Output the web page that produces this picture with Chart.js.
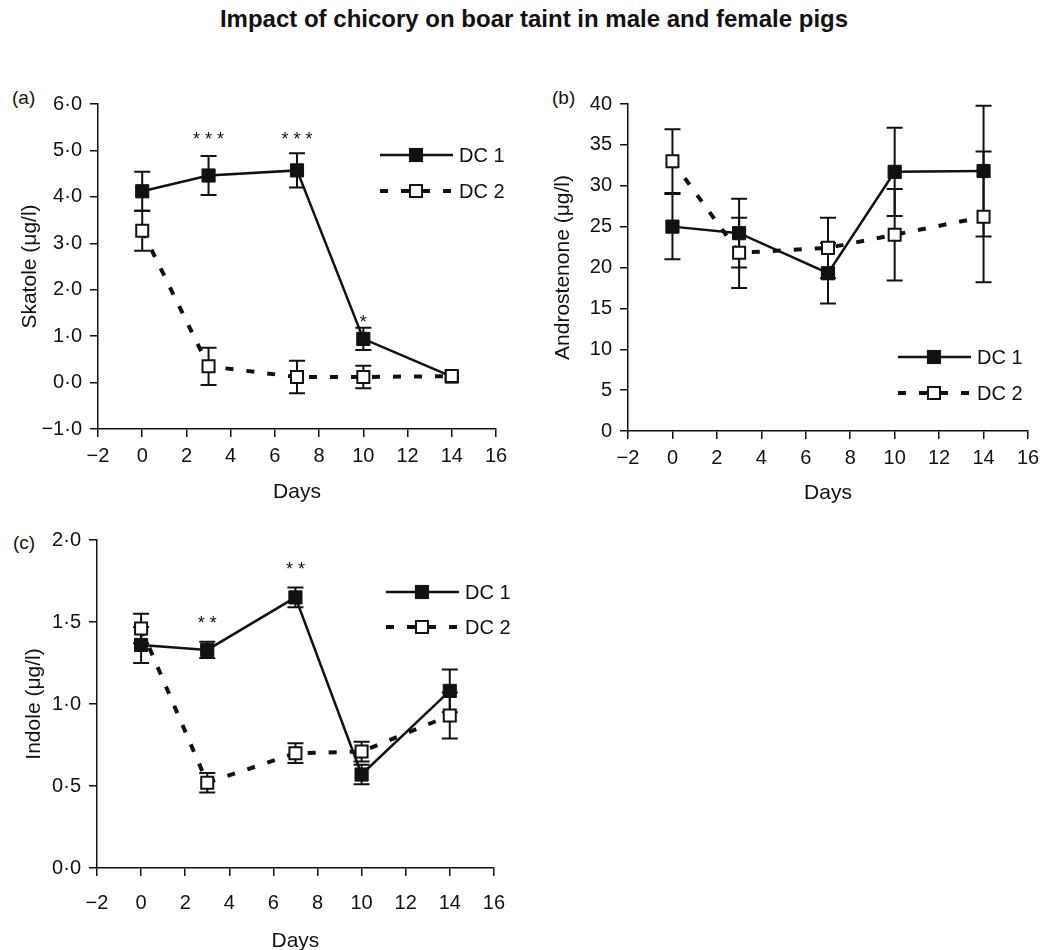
<!DOCTYPE html>
<html>
<head>
<meta charset="utf-8">
<script src="https://cdn.jsdelivr.net/npm/chart.js@4.4.1/dist/chart.umd.min.js"></script>
<style>
    body { margin: 0; background: #fff; width: 1060px; height: 950px; position: relative; overflow: hidden; font-family: 'Liberation Sans', Arial, sans-serif; color: #111; }
    .title { position: absolute; left: 4px; top: 5px; width: 1060px; text-align: center; font-weight: bold; font-size: 24px; line-height: 28px; }
    .tag { position: absolute; font-size: 19px; line-height: 22px; }
    canvas { position: absolute; }
</style>
</head>
<body>
<div class="title">Impact of chicory on boar taint in male and female pigs</div>
<div class="tag" style="left:12px;top:87px">(a)</div>
<div class="tag" style="left:552px;top:87px">(b)</div>
<div class="tag" style="left:13px;top:532px">(c)</div>
<canvas id="chartA" width="520" height="445" style="left:0;top:60px"></canvas>
<canvas id="chartB" width="540" height="446" style="left:520px;top:60px"></canvas>
<canvas id="chartC" width="520" height="454" style="left:0;top:500px"></canvas>
<script>
const days = [0, 3, 7, 10, 14];

// (a) skatole, mean and SE
const skatoleDC1 = [4.12, 4.46, 4.57, 0.94, 0.13];
const skatoleDC1Se = [0.42, 0.42, 0.37, 0.24, 0];
const skatoleDC2 = [3.27, 0.35, 0.12, 0.12, 0.14];
const skatoleDC2Se = [0.43, 0.40, 0.35, 0.24, 0];
const skatoleStarDays = [3, 7, 10];
const skatoleStarLevels = [5.12, 5.12, 1.18];
const skatoleStarText = ['* * *', '* * *', '*'];

// (b) androstenone
const androDC1 = [25.0, 24.2, 19.3, 31.7, 31.8];
const androDC1Se = [4.0, 4.2, 3.7, 5.4, 8.0];
const androDC2 = [33.0, 21.8, 22.4, 24.0, 26.2];
const androDC2Se = [3.9, 4.3, 3.7, 5.6, 8.0];

// (c) indole
const indoleDC1 = [1.36, 1.33, 1.65, 0.57, 1.08];
const indoleDC1Se = [0.11, 0.05, 0.06, 0.06, 0.13];
const indoleDC2 = [1.46, 0.52, 0.70, 0.71, 0.93];
const indoleDC2Se = [0.09, 0.06, 0.06, 0.06, 0.14];
const indoleStarDays = [3, 7];
const indoleStarLevels = [1.457, 1.787];
const indoleStarText = ['* *', '* *'];

const ink = '#111';
const family = "'Liberation Sans', Arial, sans-serif";
Chart.defaults.font.family = family;
Chart.defaults.color = ink;

const minus = (s) => s.replace('-', '\u2212');
const dotted = (v) => minus(Number(v).toFixed(1).replace('.', '\u00b7'));

// vertical SE bars, drawn under the markers
const errorBars = {
    id: 'errorBars',
    beforeDatasetsDraw(chart) {
        const { ctx, scales: { x, y } } = chart;
        ctx.save();
        ctx.strokeStyle = ink;
        ctx.lineWidth = 2;
        chart.data.datasets.forEach((ds) => {
            ds.errors.forEach((err, i) => {
                if (!err) return;
                const pt = ds.data[i];
                const px = x.getPixelForValue(pt.x);
                const top = y.getPixelForValue(pt.y + err);
                const bot = y.getPixelForValue(pt.y - err);
                ctx.beginPath();
                ctx.moveTo(px, top); ctx.lineTo(px, bot);
                ctx.moveTo(px - 8, top); ctx.lineTo(px + 8, top);
                ctx.moveTo(px - 8, bot); ctx.lineTo(px + 8, bot);
                ctx.stroke();
            });
        });
        ctx.restore();
    },
};

// significance asterisks
const stars = {
    id: 'stars',
    afterDatasetsDraw(chart, args, opts) {
        if (!opts.days) return;
        const { ctx, scales: { x, y } } = chart;
        ctx.save();
        ctx.fillStyle = ink;
        ctx.font = `18px ${family}`;
        ctx.textAlign = 'center';
        ctx.textBaseline = 'alphabetic';
        opts.days.forEach((d, i) => {
            ctx.fillText(opts.text[i], x.getPixelForValue(d), y.getPixelForValue(opts.levels[i]));
        });
        ctx.restore();
    },
};

// line + marker legend as in the paper
const sampleLegend = {
    id: 'sampleLegend',
    afterDraw(chart, args, opts) {
        const { ctx } = chart;
        ctx.save();
        chart.data.datasets.forEach((ds, i) => {
            const y = opts.top + i * opts.gap;
            const x0 = opts.left;
            const x1 = opts.left + 73;
            const cx = opts.left + 36;
            ctx.strokeStyle = ink;
            ctx.lineWidth = ds.borderWidth;
            ctx.setLineDash(ds.borderDash || []);
            ctx.beginPath();
            ctx.moveTo(x0, y);
            ctx.lineTo(x1, y);
            ctx.stroke();
            ctx.setLineDash([]);
            const side = ds.pointRadius * Math.SQRT2;
            ctx.fillStyle = ds.pointBackgroundColor;
            ctx.fillRect(cx - side / 2, y - side / 2, side, side);
            ctx.lineWidth = ds.pointBorderWidth;
            ctx.strokeRect(cx - side / 2, y - side / 2, side, side);
            ctx.fillStyle = ink;
            ctx.font = `20px ${family}`;
            ctx.textAlign = 'left';
            ctx.textBaseline = 'middle';
            ctx.fillText(ds.label, x1 + 6, y + 1);
        });
        ctx.restore();
    },
};

function series(dc1, dc1Se, dc2, dc2Se) {
    return [
        {
            label: 'DC 1',
            data: days.map((d, i) => ({ x: d, y: dc1[i] })),
            errors: dc1Se,
            borderColor: ink,
            borderWidth: 2.5,
            pointStyle: 'rect',
            pointRadius: 9.3,
            pointBackgroundColor: ink,
            pointBorderColor: ink,
            pointBorderWidth: 1,
            order: 1,
        },
        {
            label: 'DC 2',
            data: days.map((d, i) => ({ x: d, y: dc2[i] })),
            errors: dc2Se,
            borderColor: ink,
            borderWidth: 4,
            borderDash: [8, 13],
            pointStyle: 'rect',
            pointRadius: 8.5,
            pointBackgroundColor: '#fff',
            pointBorderColor: ink,
            pointBorderWidth: 2,
            order: 0,
        },
    ];
}

function makeChart(id, datasets, cfg) {
    return new Chart(document.getElementById(id), {
        type: 'line',
        data: { datasets },
        plugins: [errorBars, stars, sampleLegend],
        options: {
            responsive: false,
            animation: false,
            events: [],
            layout: { padding: cfg.padding },
            plugins: {
                legend: { display: false },
                tooltip: { enabled: false },
                stars: cfg.stars || {},
                sampleLegend: cfg.legend,
            },
            scales: {
                x: {
                    type: 'linear',
                    min: -2,
                    max: 16,
                    ticks: {
                        stepSize: 2,
                        color: ink,
                        font: { size: 20 },
                        padding: cfg.xPad,
                        maxRotation: 0,
                        callback: (v) => minus(String(v)),
                    },
                    grid: { drawOnChartArea: false, tickLength: 8, color: ink, lineWidth: 1.5 },
                    border: { color: ink, width: 1.5 },
                    title: { display: true, text: 'Days', color: ink, font: { size: 21 }, padding: { top: 0, bottom: 0 } },
                    afterFit(scale) { scale.height = cfg.xHeight; },
                },
                y: {
                    min: cfg.yMin,
                    max: cfg.yMax,
                    ticks: {
                        stepSize: cfg.yStep,
                        color: ink,
                        font: { size: 20 },
                        padding: 8,
                        callback: cfg.yFormat,
                    },
                    grid: { drawOnChartArea: false, tickLength: 8, color: ink, lineWidth: 1.5 },
                    border: { color: ink, width: 1.5 },
                    title: { display: true, text: cfg.yTitle, color: ink, font: { size: 21 }, padding: { top: cfg.yTitlePad, bottom: 0 } },
                    afterFit(scale) { scale.width = cfg.yWidth; },
                },
            },
        },
    });
}

makeChart('chartA', series(skatoleDC1, skatoleDC1Se, skatoleDC2, skatoleDC2Se), {
    padding: { top: 44, right: 24, left: 0, bottom: 0 },
    yMin: -1, yMax: 6, yStep: 1, yFormat: dotted,
    yTitle: 'Skatole (\u03bcg/l)', yTitlePad: 18, yWidth: 98,
    xPad: 7, xHeight: 76,
    stars: { days: skatoleStarDays, levels: skatoleStarLevels, text: skatoleStarText },
    legend: { left: 380, top: 95, gap: 36 },
});

makeChart('chartB', series(androDC1, androDC1Se, androDC2, androDC2Se), {
    padding: { top: 44, right: 32, left: 0, bottom: 0 },
    yMin: 0, yMax: 40, yStep: 5, yFormat: (v) => String(v),
    yTitle: 'Androstenone (\u03bcg/l)', yTitlePad: 31, yWidth: 108,
    xPad: 7, xHeight: 75,
    legend: { left: 378, top: 297, gap: 36 },
});

makeChart('chartC', series(indoleDC1, indoleDC1Se, indoleDC2, indoleDC2Se), {
    padding: { top: 40, right: 16, left: 0, bottom: 0 },
    yMin: 0, yMax: 2, yStep: 0.5, yFormat: dotted,
    yTitle: 'Indole (\u03bcg/l)', yTitlePad: 22, yWidth: 97,
    xPad: 15, xHeight: 86,
    stars: { days: indoleStarDays, levels: indoleStarLevels, text: indoleStarText },
    legend: { left: 386, top: 92, gap: 35 },
});
</script>
</body>
</html>
